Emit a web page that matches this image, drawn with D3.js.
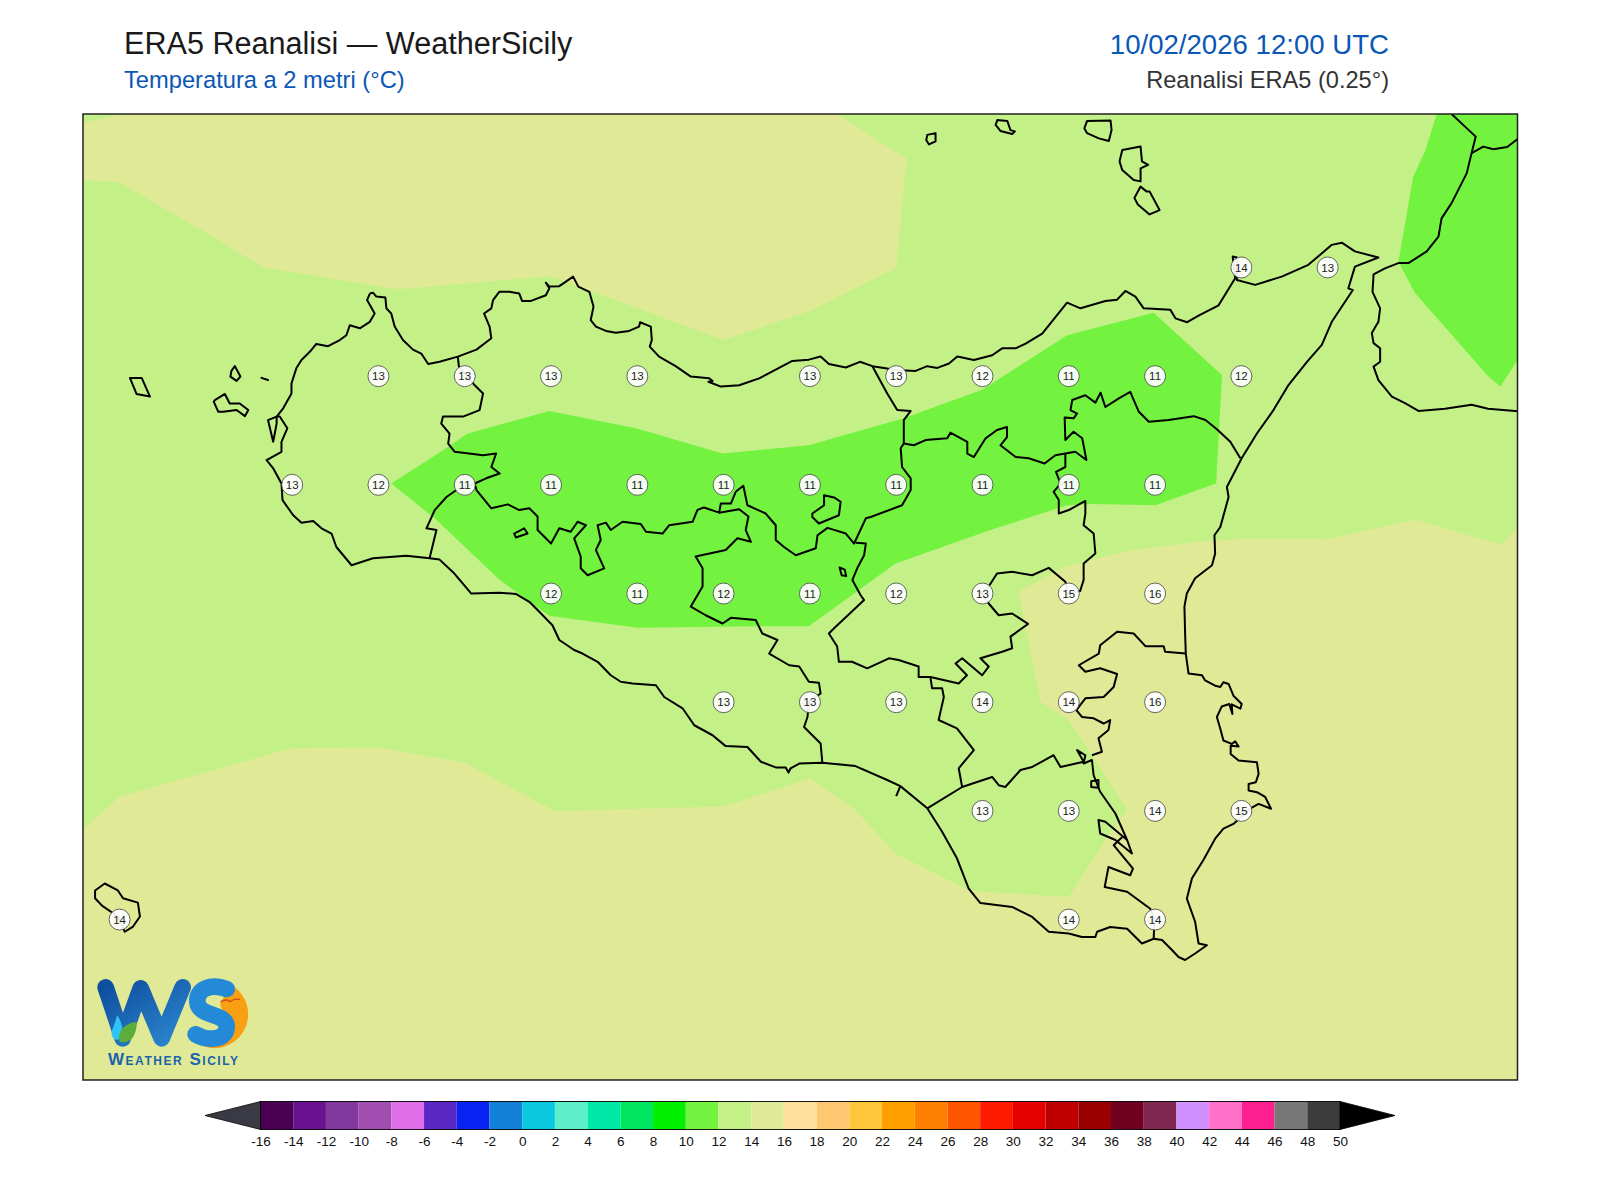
<!DOCTYPE html>
<html>
<head>
<meta charset="utf-8">
<title>ERA5 Reanalisi - WeatherSicily</title>
<script src="https://cdn.jsdelivr.net/npm/d3@7"></script>
<style>
  html, body { margin: 0; padding: 0; background: #fff; }
  text { font-family: "Liberation Sans", Arial, sans-serif; }
</style>
</head>
<body>
<svg id="chart" width="1600" height="1200"></svg>
<script>
// map extent, degrees
const lonRange = [11.894, 16.05];
const latRange = [36.381, 38.603];

// colour bar
const levels = d3.range(-16, 52, 2);
const levelColors = ["#4a0053", "#6a1190", "#8338a0", "#a04fb0", "#de6fe8", "#5a26c4", "#0a23f5", "#1580d8",
  "#0bc8e0", "#5df0c8", "#00e8a8", "#00e660", "#00f000", "#73f240", "#c4f088", "#e0ea96",
  "#ffe09a", "#ffc870", "#ffc63c", "#ffa000", "#ff8000", "#ff5500", "#ff1a00", "#e60000",
  "#bf0000", "#990000", "#700020", "#802850", "#d090ff", "#ff70c8", "#ff2090", "#787878", "#3c3c3c"];

// grid point values: [lon, lat, °C]
const gridValues = [
  [15.25, 38.25, 14], [15.5, 38.25, 13],
  [12.75, 38, 13], [13, 38, 13], [13.25, 38, 13], [13.5, 38, 13], [14, 38, 13], [14.25, 38, 13],
  [14.5, 38, 12], [14.75, 38, 11], [15, 38, 11], [15.25, 38, 12],
  [12.5, 37.75, 13], [12.75, 37.75, 12], [13, 37.75, 11], [13.25, 37.75, 11], [13.5, 37.75, 11], [13.75, 37.75, 11],
  [14, 37.75, 11], [14.25, 37.75, 11], [14.5, 37.75, 11], [14.75, 37.75, 11], [15, 37.75, 11],
  [13.25, 37.5, 12], [13.5, 37.5, 11], [13.75, 37.5, 12], [14, 37.5, 11], [14.25, 37.5, 12], [14.5, 37.5, 13],
  [14.75, 37.5, 15], [15, 37.5, 16],
  [13.75, 37.25, 13], [14, 37.25, 13], [14.25, 37.25, 13], [14.5, 37.25, 14], [14.75, 37.25, 14], [15, 37.25, 16],
  [14.5, 37, 13], [14.75, 37, 13], [15, 37, 14], [15.25, 37, 15],
  [14.75, 36.75, 14], [15, 36.75, 14], [12, 36.75, 14]
];

// filled temperature bands
const band14North = [[11.894, 38.451], [12, 38.446], [12.25, 38.33], [12.416, 38.25], [12.808, 38.2], [13.25, 38.23],
  [13.75, 38.083], [14, 38.15], [14.25, 38.25], [14.28, 38.5], [14.08, 38.603], [12.01, 38.603], [11.894, 38.583]];
const band14South = [[11.894, 36.958], [12, 37.033], [12.497, 37.144], [12.75, 37.146], [13, 37.111], [13.26, 37],
  [13.75, 37.01], [14, 37.075], [14.127, 37.006], [14.248, 36.902], [14.46, 36.818], [14.494, 36.814], [14.75, 36.802],
  [14.856, 36.933], [14.919, 37.002], [14.827, 37.117], [14.75, 37.209], [14.668, 37.251], [14.605, 37.504],
  [14.74, 37.562], [14.933, 37.6], [15.126, 37.619], [15.3, 37.627], [15.5, 37.625], [15.753, 37.67], [16, 37.613],
  [16.055, 37.653], [16.055, 36.376], [11.894, 36.376]];
const band10Center = [[12.787, 37.753], [12.952, 37.837], [13.005, 37.867], [13.245, 37.92], [13.496, 37.88], [13.747, 37.822],
  [13.997, 37.841], [14.272, 37.903], [14.499, 37.969], [14.745, 38.094], [14.996, 38.146], [15.194, 38.002],
  [15.177, 37.753], [15.001, 37.703], [14.818, 37.706], [14.745, 37.703], [14.523, 37.646], [14.248, 37.569],
  [13.997, 37.425], [13.853, 37.425], [13.5, 37.421], [13.245, 37.449], [13.1, 37.532], [12.913, 37.673]];
const band10East = [[15.816, 38.603], [15.782, 38.517], [15.748, 38.459], [15.705, 38.263], [15.753, 38.191], [15.965, 38],
  [16, 37.976], [16.055, 38.042], [16.055, 38.603]];

// coast of Sicily, clockwise from San Vito
const sicilyCoast = [[12.725, 38.19], [12.734, 38.192], [12.744, 38.183], [12.77, 38.181], [12.773, 38.156], [12.787, 38.144],
  [12.797, 38.114], [12.821, 38.083], [12.85, 38.061], [12.874, 38.052], [12.894, 38.028], [12.927, 38.033], [12.98, 38.045],
  [13.034, 38.061], [13.077, 38.087], [13.072, 38.114], [13.056, 38.144], [13.077, 38.156], [13.082, 38.175], [13.1, 38.194],
  [13.129, 38.194], [13.158, 38.19], [13.166, 38.173], [13.192, 38.173], [13.235, 38.186], [13.245, 38.202], [13.235, 38.215],
  [13.245, 38.206], [13.274, 38.207], [13.314, 38.229], [13.329, 38.206], [13.361, 38.194], [13.373, 38.16], [13.365, 38.129],
  [13.38, 38.114], [13.409, 38.104], [13.438, 38.1], [13.476, 38.104], [13.505, 38.114], [13.508, 38.124], [13.539, 38.114],
  [13.542, 38.083], [13.536, 38.068], [13.563, 38.045], [13.611, 38.023], [13.655, 37.999], [13.708, 37.995], [13.718, 37.989],
  [13.706, 37.987], [13.742, 37.976], [13.795, 37.979], [13.853, 37.995], [13.949, 38.035], [13.997, 38.038], [14.031, 38.045],
  [14.055, 38.028], [14.104, 38.02], [14.145, 38.033], [14.181, 38.023], [14.219, 38.018], [14.248, 38.014], [14.306, 38.012],
  [14.34, 38.023], [14.369, 38.019], [14.403, 38.029], [14.427, 38.045], [14.475, 38.037], [14.528, 38.048], [14.557, 38.064],
  [14.596, 38.064], [14.625, 38.075], [14.673, 38.098], [14.745, 38.169], [14.784, 38.156], [14.856, 38.173], [14.89, 38.176],
  [14.914, 38.196], [14.943, 38.183], [14.967, 38.156], [15.044, 38.153], [15.059, 38.133], [15.093, 38.124], [15.126, 38.139],
  [15.184, 38.163], [15.232, 38.225], [15.225, 38.275], [15.237, 38.273], [15.237, 38.221], [15.29, 38.21], [15.367, 38.229],
  [15.444, 38.256], [15.512, 38.302], [15.541, 38.307], [15.579, 38.287], [15.647, 38.273], [15.579, 38.252], [15.56, 38.202],
  [15.573, 38.198], [15.512, 38.125], [15.483, 38.072], [15.44, 38.033], [15.387, 37.98], [15.343, 37.922], [15.295, 37.868],
  [15.271, 37.837], [15.252, 37.813], [15.208, 37.745], [15.213, 37.722], [15.189, 37.653], [15.172, 37.634], [15.174, 37.592],
  [15.165, 37.565], [15.116, 37.535], [15.092, 37.5], [15.085, 37.47], [15.087, 37.408], [15.089, 37.362], [15.097, 37.316],
  [15.136, 37.312], [15.145, 37.3], [15.174, 37.288], [15.189, 37.285], [15.198, 37.296], [15.213, 37.292], [15.227, 37.265],
  [15.251, 37.246], [15.247, 37.235], [15.222, 37.245], [15.224, 37.223], [15.215, 37.246], [15.193, 37.24], [15.179, 37.216],
  [15.189, 37.189], [15.198, 37.162], [15.222, 37.154], [15.232, 37.16], [15.242, 37.148], [15.219, 37.15], [15.219, 37.131],
  [15.242, 37.116], [15.295, 37.112], [15.3, 37.085], [15.292, 37.066], [15.271, 37.062], [15.271, 37.047], [15.295, 37.043],
  [15.319, 37.032], [15.336, 37.005], [15.3, 37.016], [15.275, 37.005], [15.227, 36.97], [15.198, 36.959], [15.174, 36.936],
  [15.14, 36.887], [15.107, 36.845], [15.092, 36.798], [15.116, 36.745],
  [15.126, 36.695], [15.15, 36.691], [15.116, 36.672], [15.087, 36.657], [15.068, 36.664], [15.049, 36.68], [15.02, 36.703],
  [14.996, 36.706], [14.962, 36.695], [14.919, 36.729], [14.87, 36.733], [14.832, 36.722], [14.827, 36.71], [14.788, 36.71],
  [14.75, 36.718], [14.692, 36.722], [14.644, 36.756], [14.586, 36.779], [14.494, 36.788], [14.46, 36.821], [14.426, 36.891],
  [14.383, 36.952], [14.34, 37.006], [14.262, 37.057], [14.224, 37.071], [14.132, 37.103], [14.036, 37.111], [13.969, 37.109],
  [13.944, 37.098], [13.938, 37.088], [13.93, 37.1], [13.901, 37.1], [13.858, 37.113], [13.819, 37.147], [13.756, 37.149],
  [13.718, 37.174], [13.665, 37.197], [13.631, 37.236], [13.578, 37.262], [13.554, 37.289], [13.525, 37.291], [13.486, 37.293],
  [13.452, 37.297], [13.423, 37.312], [13.385, 37.343], [13.341, 37.362], [13.317, 37.37], [13.274, 37.393], [13.254, 37.427],
  [13.216, 37.458], [13.187, 37.481], [13.148, 37.499], [13.1, 37.502], [13.019, 37.5], [12.97, 37.546], [12.927, 37.578],
  [12.898, 37.581], [12.831, 37.587], [12.734, 37.581], [12.672, 37.565], [12.628, 37.607], [12.614, 37.638], [12.585, 37.65],
  [12.561, 37.667], [12.527, 37.663], [12.503, 37.68], [12.472, 37.715], [12.469, 37.753], [12.445, 37.788], [12.426, 37.807],
  [12.469, 37.826], [12.469, 37.849], [12.486, 37.88], [12.464, 37.907], [12.455, 37.907], [12.474, 37.926], [12.498, 37.96],
  [12.498, 37.983], [12.512, 38.018], [12.527, 38.037], [12.551, 38.056], [12.57, 38.074], [12.604, 38.069], [12.638, 38.083],
  [12.657, 38.094], [12.667, 38.117], [12.696, 38.11], [12.725, 38.125], [12.739, 38.144], [12.717, 38.175], [12.725, 38.19]];

// province borders and the Gela spur
const provinceLines = [
  [[12.98, 38.045], [12.983, 38.022], [13.029, 37.979], [13.053, 37.96], [13.043, 37.922], [12.995, 37.907], [12.937, 37.907],
    [12.932, 37.891], [12.956, 37.868], [12.952, 37.845], [12.971, 37.826], [13.053, 37.818], [13.091, 37.822], [13.077, 37.791],
    [13.101, 37.776], [13.062, 37.765], [13.029, 37.753], [12.976, 37.738], [12.947, 37.722], [12.913, 37.692], [12.889, 37.65],
    [12.918, 37.646], [12.898, 37.581]],
  [[13.029, 37.753], [13.034, 37.738], [13.077, 37.696], [13.125, 37.705], [13.158, 37.692], [13.187, 37.696], [13.211, 37.677],
    [13.211, 37.646], [13.25, 37.615], [13.274, 37.65], [13.307, 37.642], [13.327, 37.665], [13.351, 37.657], [13.317, 37.627],
    [13.336, 37.585], [13.336, 37.558], [13.356, 37.542], [13.404, 37.558], [13.38, 37.6], [13.394, 37.623], [13.385, 37.657],
    [13.409, 37.663], [13.423, 37.646], [13.457, 37.665], [13.51, 37.66], [13.525, 37.642], [13.573, 37.638], [13.592, 37.657],
    [13.66, 37.665], [13.674, 37.692], [13.693, 37.698], [13.737, 37.686], [13.742, 37.707], [13.771, 37.707], [13.785, 37.734],
    [13.807, 37.748], [13.819, 37.703], [13.872, 37.684], [13.901, 37.657], [13.901, 37.623], [13.925, 37.607], [13.959, 37.588],
    [14.017, 37.604], [14.022, 37.634], [14.051, 37.651], [14.104, 37.638], [14.128, 37.615], [14.162, 37.673], [14.176, 37.676],
    [14.267, 37.703], [14.292, 37.738], [14.292, 37.765], [14.267, 37.791], [14.263, 37.834], [14.272, 37.845], [14.272, 37.899],
    [14.292, 37.92], [14.253, 37.922], [14.224, 37.96], [14.181, 38.023]],
  [[13.737, 37.686], [13.795, 37.694], [13.822, 37.677], [13.814, 37.646], [13.829, 37.619], [13.79, 37.627], [13.756, 37.6],
    [13.669, 37.585], [13.689, 37.558], [13.689, 37.516], [13.655, 37.47], [13.698, 37.45], [13.747, 37.431], [13.771, 37.444],
    [13.843, 37.439], [13.862, 37.408], [13.906, 37.393], [13.882, 37.362], [13.94, 37.335], [13.969, 37.332], [13.997, 37.297],
    [14.026, 37.295], [14.031, 37.27], [13.997, 37.251], [13.993, 37.216], [13.983, 37.193], [14.031, 37.155], [14.036, 37.111]],
  [[14.133, 37.617], [14.162, 37.615], [14.157, 37.588], [14.137, 37.558], [14.123, 37.531], [14.147, 37.496], [14.157, 37.485],
    [14.07, 37.42], [14.055, 37.408], [14.079, 37.378], [14.084, 37.343], [14.122, 37.343], [14.166, 37.328], [14.229, 37.351],
    [14.257, 37.347], [14.315, 37.332], [14.315, 37.308], [14.349, 37.308], [14.431, 37.293], [14.455, 37.312], [14.422, 37.339],
    [14.441, 37.351], [14.499, 37.312], [14.518, 37.332], [14.494, 37.351], [14.557, 37.366], [14.586, 37.374], [14.581, 37.401],
    [14.632, 37.43], [14.586, 37.454], [14.547, 37.45], [14.518, 37.477], [14.497, 37.5], [14.518, 37.516], [14.542, 37.546],
    [14.586, 37.55], [14.644, 37.542], [14.692, 37.559], [14.74, 37.527], [14.748, 37.5], [14.783, 37.506], [14.793, 37.531],
    [14.793, 37.569], [14.827, 37.592], [14.822, 37.638], [14.793, 37.657], [14.798, 37.684], [14.798, 37.713], [14.75, 37.692],
    [14.721, 37.684], [14.721, 37.715], [14.706, 37.734], [14.726, 37.753], [14.713, 37.78], [14.74, 37.791], [14.74, 37.822]],
  [[14.272, 37.845], [14.301, 37.841], [14.335, 37.853], [14.398, 37.857], [14.407, 37.87], [14.456, 37.849], [14.456, 37.822],
    [14.475, 37.814], [14.509, 37.857], [14.542, 37.876], [14.571, 37.883], [14.571, 37.86], [14.552, 37.841], [14.596, 37.814],
    [14.634, 37.811], [14.68, 37.799], [14.711, 37.818], [14.74, 37.822], [14.769, 37.826], [14.801, 37.807], [14.789, 37.857],
    [14.764, 37.872], [14.74, 37.853], [14.738, 37.905], [14.764, 37.903], [14.774, 37.914], [14.755, 37.922], [14.76, 37.945],
    [14.798, 37.956], [14.827, 37.939], [14.842, 37.962], [14.856, 37.929], [14.895, 37.949], [14.928, 37.964], [14.953, 37.918],
    [14.982, 37.895], [15.039, 37.899], [15.112, 37.908], [15.146, 37.899], [15.179, 37.878], [15.218, 37.849], [15.247, 37.811]],
  [[15.089, 37.362], [15.029, 37.366], [15.025, 37.379], [14.972, 37.379], [14.938, 37.408], [14.89, 37.412], [14.841, 37.381],
    [14.837, 37.362], [14.779, 37.335], [14.798, 37.32], [14.841, 37.328], [14.89, 37.315], [14.88, 37.285], [14.851, 37.262],
    [14.798, 37.259], [14.772, 37.232], [14.788, 37.216], [14.822, 37.213], [14.851, 37.201], [14.87, 37.209], [14.865, 37.186],
    [14.836, 37.167], [14.846, 37.136], [14.817, 37.128]],
  [[14.349, 37.308], [14.354, 37.282], [14.383, 37.282], [14.388, 37.262], [14.373, 37.209], [14.426, 37.19], [14.475, 37.14],
    [14.431, 37.098], [14.441, 37.055], [14.34, 37.006]],
  [[14.441, 37.055], [14.528, 37.078], [14.547, 37.059], [14.566, 37.055], [14.61, 37.094], [14.644, 37.101], [14.706, 37.128],
    [14.726, 37.101], [14.793, 37.113], [14.774, 37.14], [14.798, 37.128], [14.793, 37.109], [14.817, 37.117], [14.822, 37.082],
    [14.841, 37.044], [14.885, 36.994], [14.919, 36.933], [14.933, 36.902], [14.885, 36.933], [14.841, 36.948], [14.836, 36.979],
    [14.856, 36.975], [14.919, 36.933]],
  [[14.905, 36.94], [14.88, 36.921], [14.936, 36.867], [14.928, 36.852], [14.865, 36.871], [14.854, 36.825], [14.919, 36.814],
    [14.986, 36.775], [14.998, 36.749], [14.996, 36.706]],
  [[14.262, 37.057], [14.25, 37.034]]
];

// islands, lakes and small closed rings
const closedRings = [
  [[12.03, 37.996], [12.064, 37.996], [12.088, 37.953], [12.049, 37.959]],
  [[12.334, 38.023], [12.35, 37.999], [12.339, 37.989], [12.321, 37.999], [12.324, 38.012]],
  [[12.276, 37.945], [12.305, 37.959], [12.319, 37.937], [12.348, 37.937], [12.373, 37.922], [12.363, 37.908], [12.339, 37.922],
    [12.3, 37.918], [12.286, 37.918], [12.273, 37.941]],
  [[12.411, 37.996], [12.43, 37.991]],
  [[12.43, 37.899], [12.445, 37.849], [12.455, 37.891], [12.455, 37.907]],
  [[14.34, 38.555], [14.364, 38.559], [14.364, 38.54], [14.345, 38.533], [14.337, 38.543]],
  [[14.543, 38.589], [14.572, 38.587], [14.581, 38.566], [14.594, 38.563], [14.586, 38.557], [14.552, 38.564], [14.538, 38.578]],
  [[14.803, 38.587], [14.871, 38.588], [14.874, 38.566], [14.866, 38.541], [14.837, 38.547], [14.803, 38.559], [14.795, 38.57]],
  [[14.905, 38.52], [14.958, 38.528], [14.962, 38.494], [14.98, 38.486], [14.958, 38.478], [14.958, 38.448], [14.938, 38.451],
    [14.905, 38.474], [14.897, 38.494]],
  [[14.958, 38.436], [14.975, 38.425], [14.984, 38.425], [15.013, 38.382], [14.984, 38.372], [14.95, 38.395], [14.94, 38.41]],
  [[11.929, 36.817], [11.957, 36.833], [11.995, 36.817], [12.01, 36.799], [12.053, 36.789], [12.059, 36.757], [12.039, 36.734],
    [12.015, 36.722], [11.995, 36.757], [11.949, 36.782], [11.929, 36.799]],
  [[14.086, 37.56], [14.101, 37.555], [14.105, 37.54], [14.092, 37.542]],
  [[13.143, 37.638], [13.172, 37.65], [13.182, 37.638], [13.148, 37.629]],
  [[14.007, 37.684], [14.041, 37.703], [14.041, 37.726], [14.07, 37.721], [14.089, 37.711], [14.084, 37.68], [14.026, 37.661], [14.007, 37.676]],
  [[14.815, 37.068], [14.836, 37.071], [14.836, 37.053], [14.815, 37.055]]
];

// Calabria
const calabriaCoast = [[15.859, 38.603], [15.898, 38.574], [15.929, 38.551], [15.917, 38.513], [15.903, 38.467], [15.859, 38.398],
  [15.83, 38.363], [15.821, 38.321], [15.787, 38.287], [15.734, 38.26], [15.705, 38.26], [15.666, 38.248], [15.633, 38.234],
  [15.63, 38.194], [15.652, 38.156], [15.647, 38.125], [15.628, 38.099], [15.633, 38.076], [15.652, 38.064], [15.652, 38.033],
  [15.633, 38.022], [15.647, 37.991], [15.686, 37.953], [15.724, 37.938], [15.763, 37.92], [15.84, 37.925], [15.917, 37.934],
  [15.965, 37.925], [16.055, 37.919]];
const calabriaBorder = [[15.917, 38.513], [15.951, 38.528], [15.98, 38.522], [16.02, 38.527], [16.055, 38.548]];

const titleMain = "ERA5 Reanalisi — WeatherSicily";
const titleSub = "Temperatura a 2 metri (°C)";
const titleDate = "10/02/2026 12:00 UTC";
const titleSource = "Reanalisi ERA5 (0.25°)";

const svg = d3.select("#chart");
const frame = { left: 83, right: 1517.5, top: 114, bottom: 1080 };

const x = d3.scaleLinear().domain(lonRange).range([frame.left, frame.right]);
const y = d3.scaleLinear().domain(latRange).range([frame.bottom, frame.top]);
const colorOf = d3.scaleThreshold().domain(levels.slice(1, -1)).range(levelColors);

const pathOf = d3.line().x(d => x(d[0])).y(d => y(d[1]));

svg.append("clipPath").attr("id", "map-clip")
  .append("rect")
  .attr("x", frame.left).attr("y", frame.top)
  .attr("width", frame.right - frame.left).attr("height", frame.bottom - frame.top);

const map = svg.append("g").attr("clip-path", "url(#map-clip)");

// background band 12-14
map.append("rect")
  .attr("x", frame.left).attr("y", frame.top)
  .attr("width", frame.right - frame.left).attr("height", frame.bottom - frame.top)
  .attr("fill", colorOf(13));

map.selectAll("path.band14")
  .data([band14North, band14South])
  .join("path")
  .attr("class", "band14")
  .attr("d", d => pathOf(d) + "Z")
  .attr("fill", colorOf(15));

map.selectAll("path.band10")
  .data([band10Center, band10East])
  .join("path")
  .attr("class", "band10")
  .attr("d", d => pathOf(d) + "Z")
  .attr("fill", colorOf(11));

// coast and borders
const lineStyle = sel => sel.attr("fill", "none").attr("stroke", "#000").attr("stroke-width", 2).attr("stroke-linejoin", "round");

map.selectAll("path.open")
  .data([sicilyCoast, calabriaCoast, calabriaBorder, ...provinceLines])
  .join("path")
  .attr("class", "open")
  .attr("d", pathOf)
  .call(lineStyle);

map.selectAll("path.ring")
  .data(closedRings)
  .join("path")
  .attr("class", "ring")
  .attr("d", d => pathOf(d) + "Z")
  .call(lineStyle);

// grid point labels
const marker = map.selectAll("g.marker")
  .data(gridValues)
  .join("g")
  .attr("class", "marker")
  .attr("transform", d => `translate(${x(d[0])},${y(d[1])})`);

marker.append("circle")
  .attr("r", 10.5)
  .attr("fill", "#fff")
  .attr("fill-opacity", 0.92)
  .attr("stroke", "#555")
  .attr("stroke-width", 0.9);

marker.append("text")
  .attr("text-anchor", "middle")
  .attr("dy", "0.36em")
  .attr("font-size", 11.5)
  .attr("fill", "#222")
  .text(d => d[2]);

// logo, drawn in its own small coordinate space
const logo = map.append("g").attr("transform", "translate(80,940) scale(0.3333)");
const logoBlue = logo.append("linearGradient").attr("id", "ws-blue").attr("x1", 0).attr("x2", 1).attr("y1", 0).attr("y2", 1);
logoBlue.append("stop").attr("offset", 0).attr("stop-color", "#0f4f9f");
logoBlue.append("stop").attr("offset", 1).attr("stop-color", "#2b86cf");
logo.append("path")
  .attr("d", "M455,135 A100,100 0 1 1 350,310 L440,260 L420,190 Z")
  .attr("fill", "#f9a012");
logo.append("path")
  .attr("d", "M77,142 L128,295 L182,145 L245,295 L308,142")
  .attr("fill", "none").attr("stroke", "url(#ws-blue)").attr("stroke-width", 50)
  .attr("stroke-linejoin", "round").attr("stroke-linecap", "round");
logo.append("path")
  .attr("d", "M440,147 C395,130 350,145 352,185 C355,235 445,215 440,265 C435,305 375,300 347,283")
  .attr("fill", "none").attr("stroke", "#2489d6").attr("stroke-width", 50).attr("stroke-linecap", "round");
logo.append("path")
  .attr("d", "M112,225 C125,250 135,270 120,295 C105,310 85,285 100,262 Z")
  .attr("fill", "#2fc4f5");
logo.append("path")
  .attr("d", "M118,305 C112,270 135,250 170,245 C172,285 150,315 118,305 Z")
  .attr("fill", "#5cae3a");
logo.append("path")
  .attr("d", "M422,185 Q440,175 450,185 Q462,175 480,178")
  .attr("fill", "none").attr("stroke", "#d2491a").attr("stroke-width", 4);

map.append("text")
  .attr("x", 108).attr("y", 1065)
  .attr("font-size", 17)
  .attr("font-weight", 700)
  .attr("font-variant", "small-caps")
  .attr("fill", "#1c62ad")
  .attr("textLength", 130)
  .text("Weather Sicily");

// frame
svg.append("rect")
  .attr("x", frame.left).attr("y", frame.top)
  .attr("width", frame.right - frame.left).attr("height", frame.bottom - frame.top)
  .attr("fill", "none").attr("stroke", "#222").attr("stroke-width", 1.5);

// titles
const addTitle = (label, px, py, size, color, anchor) => svg.append("text")
  .attr("x", px).attr("y", py)
  .attr("font-size", size)
  .attr("fill", color)
  .attr("text-anchor", anchor)
  .text(label);

addTitle(titleMain, 124, 54, 30.6, "#1a1a1a", "start");
addTitle(titleSub, 124, 88, 23.7, "#0b57b5", "start");
addTitle(titleDate, 1389, 54, 27.6, "#0b57b5", "end");
addTitle(titleSource, 1389, 88, 23.6, "#333", "end");

// colour bar
const barScale = d3.scaleLinear().domain([-16, 50]).range([260.5, 1340]);
const barTop = 1101.5;
const barBottom = 1129.5;
const bar = svg.append("g");

bar.append("path")
  .attr("d", `M205,${(barTop + barBottom) / 2}L${barScale(-16)},${barTop}V${barBottom}Z`)
  .attr("fill", "#3a3a44").attr("stroke", "#000").attr("stroke-width", 0.8);
bar.append("path")
  .attr("d", `M1395,${(barTop + barBottom) / 2}L${barScale(50)},${barTop}V${barBottom}Z`)
  .attr("fill", "#000").attr("stroke", "#000").attr("stroke-width", 0.8);

bar.selectAll("rect.step")
  .data(levelColors)
  .join("rect")
  .attr("class", "step")
  .attr("x", (d, i) => barScale(levels[i]))
  .attr("y", barTop)
  .attr("width", (d, i) => barScale(levels[i + 1]) - barScale(levels[i]))
  .attr("height", barBottom - barTop)
  .attr("fill", d => d);

bar.append("rect")
  .attr("x", barScale(-16)).attr("y", barTop)
  .attr("width", barScale(50) - barScale(-16)).attr("height", barBottom - barTop)
  .attr("fill", "none").attr("stroke", "#000").attr("stroke-width", 0.9);

const barAxis = d3.axisBottom(barScale).tickValues(levels).tickSize(0).tickPadding(7).tickFormat(d => String(d));
const axisG = svg.append("g").attr("transform", `translate(0,${barBottom})`).call(barAxis);
axisG.select(".domain").remove();
axisG.selectAll("text")
  .attr("font-family", "Liberation Sans, Arial, sans-serif")
  .attr("font-size", 13.5)
  .attr("fill", "#111");
</script>
</body>
</html>
